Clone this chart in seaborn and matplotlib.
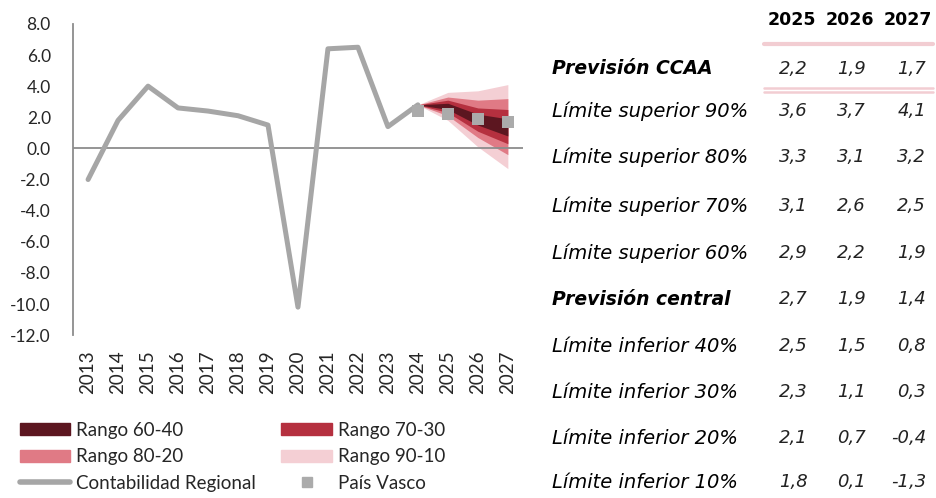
import numpy as np
import pandas as pd
import matplotlib.pyplot as plt
from matplotlib.patches import Patch
from matplotlib.lines import Line2D
import seaborn as sns

years = [str(y) for y in range(2013, 2028)]
hist_years = years[:12]
contab = [-2.0, 1.8, 4.0, 2.6, 2.4, 2.1, 1.5, -10.2, 6.4, 6.5, 1.4, 2.8]

fan_years = ["2024", "2025", "2026", "2027"]
sup90 = [2.8, 3.6, 3.7, 4.1]
sup80 = [2.8, 3.3, 3.1, 3.2]
sup70 = [2.8, 3.1, 2.6, 2.5]
sup60 = [2.8, 2.9, 2.2, 1.9]
central = [2.8, 2.7, 1.9, 1.4]
inf40 = [2.8, 2.5, 1.5, 0.8]
inf30 = [2.8, 2.3, 1.1, 0.3]
inf20 = [2.8, 2.1, 0.7, -0.4]
inf10 = [2.8, 1.8, 0.1, -1.3]

pv_years = ["2024", "2025", "2026", "2027"]
pais_vasco = [2.4, 2.2, 1.9, 1.7]

row_labels = ["Previsión CCAA", "Límite superior 90%", "Límite superior 80%",
              "Límite superior 70%", "Límite superior 60%", "Previsión central",
              "Límite inferior 40%", "Límite inferior 30%", "Límite inferior 20%",
              "Límite inferior 10%"]
table_vals = [
    ["2,2", "1,9", "1,7"],
    ["3,6", "3,7", "4,1"],
    ["3,3", "3,1", "3,2"],
    ["3,1", "2,6", "2,5"],
    ["2,9", "2,2", "1,9"],
    ["2,7", "1,9", "1,4"],
    ["2,5", "1,5", "0,8"],
    ["2,3", "1,1", "0,3"],
    ["2,1", "0,7", "-0,4"],
    ["1,8", "0,1", "-1,3"],
]
table_cols = ["2025", "2026", "2027"]

c6040 = "#5C1620"
c7030 = "#B5303F"
c8020 = "#E07A85"
c9010 = "#F4CFD4"
grey = "#A6A6A6"

sns.set_style("white")
plt.rcParams['font.family'] = ['Lato', 'DejaVu Sans']

fig = plt.figure(figsize=(9.37, 4.98), dpi=100)
ax = fig.add_axes([0.078, 0.327, 0.480, 0.625])

pos = {y: i for i, y in enumerate(years)}
fx = [pos[y] for y in fan_years]

ax.fill_between(fx, inf10, sup90, color=c9010, lw=0)
ax.fill_between(fx, inf20, sup80, color=c8020, lw=0)
ax.fill_between(fx, inf30, sup70, color=c7030, lw=0)
ax.fill_between(fx, inf40, sup60, color=c6040, lw=0)

df_hist = pd.DataFrame({"x": [pos[y] for y in hist_years], "v": contab})
sns.lineplot(data=df_hist, x="x", y="v", ax=ax, color=grey, lw=3.6,
             solid_capstyle="round")
df_pv = pd.DataFrame({"x": [pos[y] for y in pv_years], "v": pais_vasco})
sns.scatterplot(data=df_pv, x="x", y="v", ax=ax, color="#ABABAB", marker="s",
                s=75, edgecolor="none", zorder=5)

ax.axhline(0, color="#8C8C8C", lw=1.3, zorder=1)
ax.set_xlim(-0.5, len(years) - 0.5)
ax.set_ylim(-12, 8)
ax.set_yticks(np.arange(-12, 9, 2))
ax.set_yticklabels([f"{v:.1f}" for v in np.arange(-12, 9, 2)], fontsize=12.5)
ax.set_xticks(range(len(years)))
ax.set_xticklabels(years, rotation=90, fontsize=13.5)
ax.tick_params(axis="x", length=0, pad=11)
ax.tick_params(axis="y", length=0, pad=16)
ax.set_xlabel("")
ax.set_ylabel("")
for s in ["top", "right", "bottom"]:
    ax.spines[s].set_visible(False)
ax.spines["left"].set_color("#8C8C8C")
ax.spines["left"].set_linewidth(1.3)

handles = [
    Patch(color=c6040), Patch(color=c8020),
    Line2D([0], [0], color=grey, lw=4, solid_capstyle="round"),
    Patch(color=c7030), Patch(color=c9010),
    Line2D([0], [0], color="#ABABAB", marker="s", lw=0, markersize=7),
]
labels = ["Rango 60-40", "Rango 80-20", "Contabilidad Regional",
          "Rango 70-30", "Rango 90-10", "País Vasco"]
fig.legend(handles, labels, ncol=2, loc="upper left",
           bbox_to_anchor=(0.013, 0.168), frameon=False, fontsize=13.5,
           handlelength=2.7, handleheight=0.6, columnspacing=1.37,
           labelspacing=0.5, handletextpad=0.3, borderaxespad=0)

# table on the right
W, H = 937, 498
tfont = ['DejaVu Sans']
col_right = [808, 866, 926]
col_center = [792, 850, 908]
for cx, c in zip(col_center, table_cols):
    fig.text(cx / W, 1 - 20 / H, c, ha="center", va="center", family=tfont,
             fontsize=12.5, fontweight="bold", color="black")

pink = "#F2CDD2"
fig.add_artist(Line2D([764 / W, 933 / W], [1 - 44 / H, 1 - 44 / H],
                      color=pink, lw=3))
for yy in [88, 92]:
    fig.add_artist(Line2D([764 / W, 933 / W], [1 - yy / H, 1 - yy / H],
                          color=pink, lw=1.8))

row_y = [69, 111, 157, 206, 253, 299, 346, 392, 438, 482]
for ry, lab, vals in zip(row_y, row_labels, table_vals):
    bold = lab.startswith("Previsión")
    fig.text(552 / W, 1 - ry / H, lab, ha="left", va="center", family=tfont,
             fontsize=13.5 if bold else 14, style="italic",
             fontweight="bold" if bold else "normal", color="black")
    for cx, v in zip(col_right, vals):
        fig.text(cx / W, 1 - ry / H, v, ha="right", va="center", family=tfont,
                 fontsize=13, style="italic", color="#222222")

fig.savefig("out.png", dpi=100)
